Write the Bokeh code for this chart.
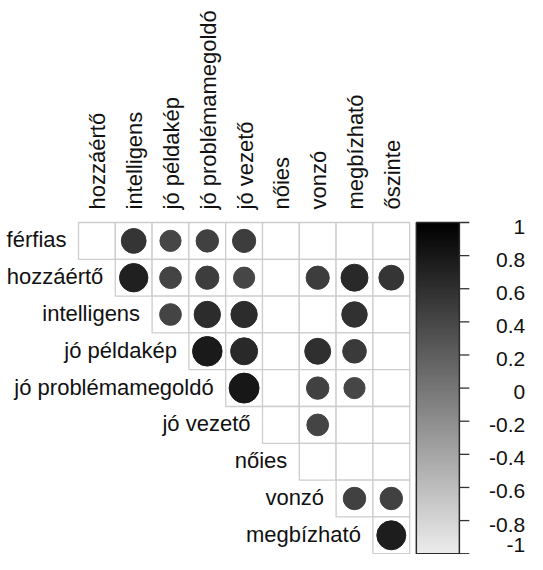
import math
import numpy as np
from bokeh.plotting import figure
from bokeh.models import Range1d, LinearColorMapper, ColumnDataSource
from bokeh.transform import transform
from bokeh.core.properties import value
from bokeh.embed import file_html
from bokeh.resources import INLINE

# ---------------- data ----------------
row_labels = ["férfias", "hozzáértő", "intelligens", "jó példakép",
              "jó problémamegoldó", "jó vezető", "nőies", "vonzó", "megbízható"]
col_labels = ["hozzáértő", "intelligens", "jó példakép", "jó problémamegoldó",
              "jó vezető", "nőies", "vonzó", "megbízható", "őszinte"]

N = float("nan")
# upper triangle: row i holds the values for columns i .. 8 (blank = not shown)
r_ferfias = [N, 0.55, 0.40, 0.45, 0.48, N, N, N, N]
r_hozzaerto = [0.72, 0.42, 0.48, 0.40, N, 0.48, 0.65, 0.55]
r_intelligens = [0.42, 0.62, 0.62, N, N, 0.58, N]
r_jo_peldakep = [0.78, 0.65, N, 0.60, 0.50, N]
r_jo_problemamegoldo = [0.80, N, 0.45, 0.40, N]
r_jo_vezeto = [N, 0.42, N, N]
r_noies = [N, N, N]
r_vonzo = [0.45, 0.45]
r_megbizhato = [0.75]

rows_values = [r_ferfias, r_hozzaerto, r_intelligens, r_jo_peldakep,
               r_jo_problemamegoldo, r_jo_vezeto, r_noies, r_vonzo, r_megbizhato]

cb_ticks = [1, 0.8, 0.6, 0.4, 0.2, 0, -0.2, -0.4, -0.6, -0.8, -1]
cb_tick_labels = ["1", "0.8", "0.6", "0.4", "0.2", "0", "-0.2", "-0.4", "-0.6", "-0.8", "-1"]

# ---------------- layout ----------------
W, H = 535, 554
CELL = 36.8          # pixels per cell
GX, GY = 78, 222     # grid top-left inside figure (px)
FONT = value("Liberation Sans")
FS = "22px"
FS_CB = "21px"

x_range = Range1d(-GX / CELL, (W - GX) / CELL)
y_range = Range1d((H - GY) / CELL, -GY / CELL)   # flipped: row 0 on top

ncol = len(col_labels)
half = ncol / 2.0
cb_start = 1 - y_range.start / half
cb_end = 1 - y_range.end / half

p = figure(width=W, height=H, x_range=x_range, y_range=y_range,
           output_backend="svg", toolbar_location=None,
           x_axis_location=None, y_axis_location=None,
           min_border=0, outline_line_color=None,
           background_fill_color="white", border_fill_color="white")
p.xgrid.visible = False
p.ygrid.visible = False
p.extra_y_ranges = {"cb": Range1d(cb_start, cb_end)}

lo, hi = 0xEC, 0x00
palette = []
for k in range(256):
    t = k / 255.0
    g = int(round(lo + (hi - lo) * t))
    palette.append("#%02x%02x%02x" % (g, g, g))
mapper = LinearColorMapper(palette=palette, low=-1, high=1)

cx, cy, cr, rad = [], [], [], []
gx, gy = [], []
for i, vals in enumerate(rows_values):
    for k, v in enumerate(vals):
        j = i + k
        gx.append(j + 0.5)
        gy.append(i + 0.5)
        if not math.isnan(v):
            cx.append(j + 0.5)
            cy.append(i + 0.5)
            cr.append(v)
            rad.append(0.455 * math.sqrt(abs(v)))

p.rect(x=gx, y=gy, width=1, height=1, fill_color="white",
       line_color="#cdcdcd", line_width=1.3)

src = ColumnDataSource(dict(x=cx, y=cy, r=cr, rad=rad))
p.circle(x="x", y="y", radius="rad", source=src,
         fill_color=transform("r", mapper), line_color=transform("r", mapper),
         line_width=1)

p.text(x=list(range(len(row_labels))), y=[i + 0.5 for i in range(len(row_labels))],
       text=row_labels, text_align="right", text_baseline="middle",
       x_offset=-12, y_offset=-1,
       text_font=FONT, text_font_size=FS, text_color="#111111")

p.text(x=[j + 0.5 for j in range(ncol)], y=[0] * ncol, text=col_labels,
       angle=math.pi / 2, text_align="left", text_baseline="middle",
       x_offset=1, y_offset=-13,
       text_font=FONT, text_font_size=FS, text_color="#111111")

CB_LEFT = ncol + 0.18
CB_RIGHT = ncol + 1.35
TICK = 0.27
LAB_X = ncol + 3.14
grad = np.linspace(-1, 1, 256).reshape(-1, 1)
p.image(image=[grad], x=CB_LEFT, y=-1, dw=CB_RIGHT - CB_LEFT, dh=2,
        color_mapper=mapper, y_range_name="cb")
p.quad(left=CB_LEFT, right=CB_RIGHT, bottom=-1, top=1, fill_color=None,
       line_color="#2a2a2a", line_width=1.5, y_range_name="cb")
p.segment(x0=[CB_RIGHT] * len(cb_ticks), x1=[CB_RIGHT + TICK] * len(cb_ticks),
          y0=cb_ticks, y1=cb_ticks, line_color="#333333", line_width=1.3,
          y_range_name="cb")
lab_offsets = [4] * (len(cb_ticks) - 1) + [-9]
p.text(x=[LAB_X] * len(cb_ticks), y=cb_ticks, text=cb_tick_labels,
       text_align="right", text_baseline="middle", y_offset=lab_offsets,
       text_font=FONT, text_font_size=FS_CB, text_color="#111111",
       y_range_name="cb")

open("out.html", "w").write(file_html(p, INLINE))
